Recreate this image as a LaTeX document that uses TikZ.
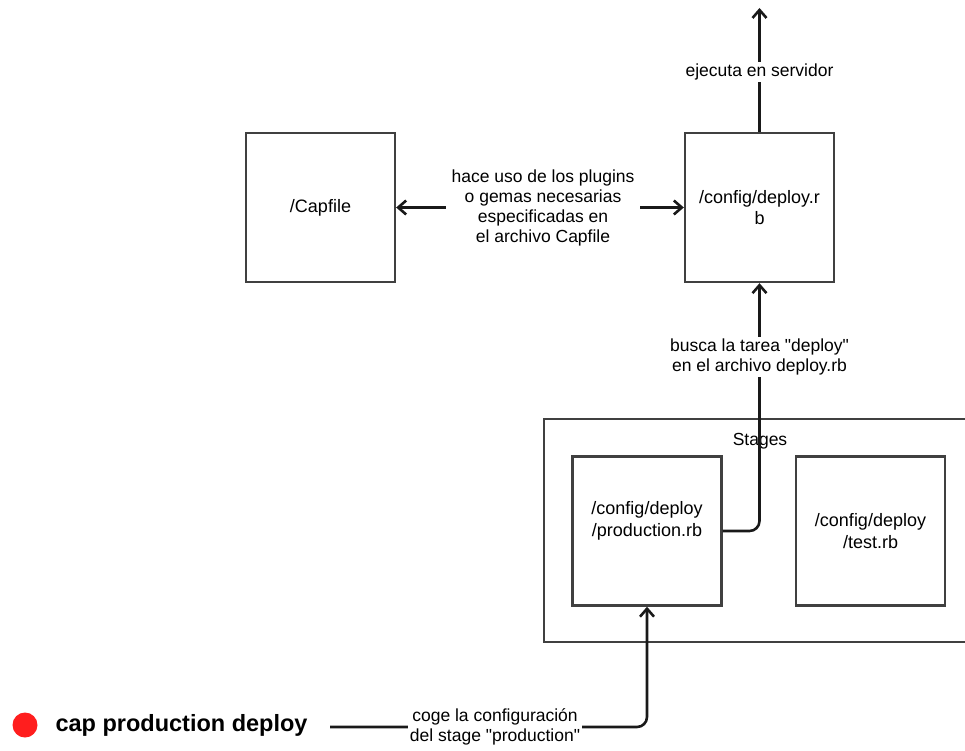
\documentclass[tikz,border=0pt]{standalone}
\usepackage{fontspec}
\setmainfont{Liberation Sans}
\usetikzlibrary{arrows.meta,positioning}
\definecolor{dotred}{RGB}{255,30,30}
\begin{document}
\begin{tikzpicture}[x=1pt,y=-1pt,
  box/.style={draw=black!75,line width=2.4pt,minimum width=149pt,minimum height=149pt,inner sep=0pt,align=center,font=\fontsize{18}{21}\selectfont},
  lbl/.style={fill=white,align=center,inner sep=2pt,font=\fontsize{17.5}{20}\selectfont},
  conn/.style={draw=black!90,line width=2.6pt,rounded corners=10pt},
  tip/.style={-{Straight Barb[length=8pt,width=14pt,line width=2.6pt]}}
]
\useasboundingbox (0,0) rectangle (965,751);
% Stages container (right side runs past the edge)
\node[draw=black!75,line width=2.4pt,minimum width=432pt,minimum height=223pt,inner sep=0pt,anchor=north west] (stages) at (543,418) {};
\node[font=\fontsize{17.5}{20}\selectfont] (stageslbl) at (760,441) {Stages};
% boxes
\node[box] (capfile) at (320.5,207.5) {/Capfile};
\node[box] (deploy) at (759.5,207.5) {/config/deploy.r\\b};
\node[box] (prod) at (647,531) {};
\node[align=center,font=\fontsize{18}{22}\selectfont] (prodtxt) at (647,521) {/config/deploy\\/production.rb};
\node[box,font=\fontsize{18}{22}\selectfont] (test) at (870.5,531) {/config/deploy\\/test.rb};
% top arrow
\coordinate (top) at (759.5,8);
\draw[conn,tip] (deploy.north) -- (top);
\node[lbl] (ejec) at (759.5,72) {ejecuta en servidor};
% Capfile <-> deploy
\coordinate (mid) at (543,207.5);
\draw[conn,tip] (mid) -- (capfile.east);
\draw[conn,tip] (mid) -- (deploy.west);
\node[lbl,inner xsep=6pt] (hace) at (mid) {hace uso de los plugins\\o gemas necesarias\\especificadas en\\el archivo Capfile};
% production -> deploy
\draw[conn,tip] (prod.east) -| (deploy.south);
\node[lbl] (busca) at (759.5,357) {busca la tarea \textquotedbl deploy\textquotedbl\\en el archivo deploy.rb};
% bottom
\node[circle,fill=dotred,inner sep=0pt,minimum size=25pt] (dot) at (25,725) {};
\node[anchor=west,font=\bfseries\fontsize{23.5}{26}\selectfont] (cmd) at (52,725) {cap production deploy};
\coordinate (start) at (330,727);
\draw[conn,tip] (start) -| (prod.south);
\node[lbl] (coge) at (495,727) {coge la configuración\\del stage \textquotedbl production\textquotedbl};
\end{tikzpicture}
\end{document}
